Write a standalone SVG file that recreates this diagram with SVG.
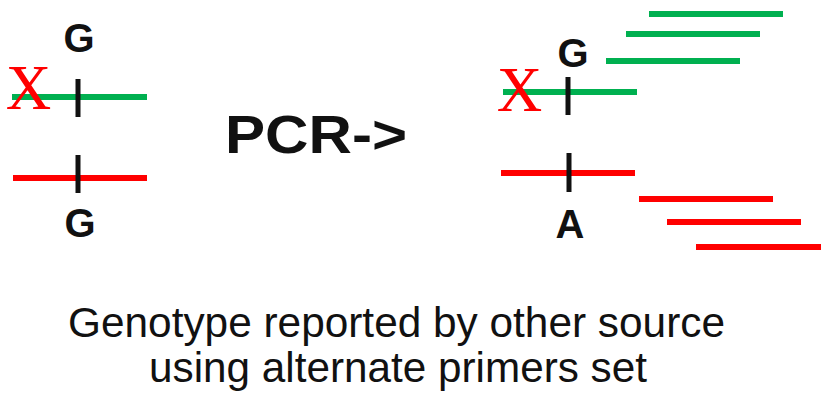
<svg xmlns="http://www.w3.org/2000/svg" width="821" height="393" viewBox="0 0 821 393">
  <style>
    .green { stroke: #00b050; stroke-width: 6; fill: none; }
    .red { stroke: #ff0000; stroke-width: 6; fill: none; }
    .tick { stroke: #111111; stroke-width: 5; fill: none; }
    .base { font-family: "Liberation Sans", Arial, sans-serif; font-weight: bold; font-size: 40px; fill: #111111; text-anchor: middle; }
    .cross { font-family: "Liberation Serif", "Times New Roman", serif; font-size: 63px; fill: #ff0000; text-anchor: middle; }
    .title { font-family: "Liberation Sans", Arial, sans-serif; font-weight: bold; font-size: 53px; fill: #111111; }
    .caption { font-family: "Liberation Sans", Arial, sans-serif; font-size: 42px; fill: #111111; text-anchor: middle; }
  </style>
  <rect width="821" height="393" fill="#ffffff"/>

  <!-- template strands before amplification -->
  <g id="left-template">
    <line class="green" x1="12" y1="97" x2="147" y2="97"/>
    <line class="tick" x1="78" y1="79" x2="78" y2="117"/>
    <text class="base" x="79" y="52">G</text>
    <text class="cross" x="28.5" y="109">X</text>
    <line class="red" x1="13" y1="178" x2="147" y2="178"/>
    <line class="tick" x1="78" y1="155" x2="78" y2="193"/>
    <text class="base" x="80" y="237">G</text>
  </g>

  <g id="pcr-label">
    <text class="title" x="225" y="153" textLength="182" lengthAdjust="spacingAndGlyphs">PCR-&gt;</text>
  </g>

  <!-- template strands after amplification -->
  <g id="right-template">
    <line class="green" x1="503" y1="92" x2="637" y2="92"/>
    <line class="tick" x1="568" y1="77" x2="568" y2="115"/>
    <text class="base" x="573" y="67">G</text>
    <text class="cross" x="519.5" y="111">X</text>
    <line class="red" x1="501" y1="173" x2="635" y2="173"/>
    <line class="tick" x1="569" y1="153" x2="569" y2="192"/>
    <text class="base" x="570" y="238">A</text>
  </g>

  <!-- amplified products -->
  <g id="products">
    <line class="green" x1="649" y1="14" x2="783" y2="14"/>
    <line class="green" x1="626" y1="34" x2="760" y2="34"/>
    <line class="green" x1="606" y1="61" x2="740" y2="61"/>
    <line class="red" x1="639" y1="199" x2="773" y2="199"/>
    <line class="red" x1="667" y1="222" x2="801" y2="222"/>
    <line class="red" x1="696" y1="247" x2="821" y2="247"/>
  </g>

  <g id="caption">
    <text class="caption" x="396.5" y="337" textLength="657" lengthAdjust="spacingAndGlyphs">Genotype reported by other source</text>
    <text class="caption" x="398" y="382" textLength="498" lengthAdjust="spacingAndGlyphs">using alternate primers set</text>
  </g>
</svg>
